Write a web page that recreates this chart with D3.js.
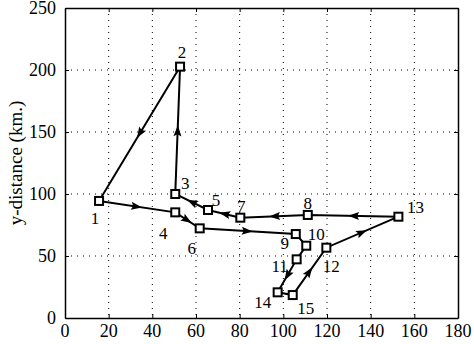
<!DOCTYPE html>
<html>
<head>
<meta charset="utf-8">
<script src="https://cdn.jsdelivr.net/npm/d3@7"></script>
<style>
  body { margin: 0; background: #fff; }
</style>
</head>
<body>
<div id="chart"></div>
<script>
// station numbers, in path order
const pathOrder = [1, 4, 6, 9, 10, 11, 14, 15, 12, 13, 8, 7, 5, 3, 2, 1];
const pointIds = [1, 2, 3, 4, 5, 6, 7, 8, 9, 10, 11, 12, 13, 14, 15];
const xValues = [15.6, 52.7, 50.5, 50.5, 65.5, 61.7, 80.3, 111.2, 105.7, 110.5, 106.1, 119.7, 152.7, 97.4, 104.3];
const yValues = [94.4, 202.7, 100, 85.2, 87.1, 72.3, 80.9, 83.1, 67.7, 58.3, 47.3, 56.7, 81.7, 20.7, 18.5];
const xTicks = [0, 20, 40, 60, 80, 100, 120, 140, 160, 180];
const yTicks = [0, 50, 100, 150, 200, 250];
const yLabel = 'y-distance (km.)';

// label placement relative to the marker (px)
const labelOffset = {
  1: [-4, 17], 2: [2, -15], 3: [10, -11], 4: [-12, 21], 5: [8, -10],
  6: [-8, 20], 7: [1, -12], 8: [0, -12], 9: [-11, 9], 10: [10, -12],
  11: [-17, 7], 12: [5, 18], 13: [17, -10], 14: [-15, 10], 15: [13, 13]
};

const FONT = 'Liberation Serif';
const W = 474, H = 344;
const margin = { top: 8, right: 16, bottom: 26, left: 65 };
const iw = W - margin.left - margin.right;
const ih = H - margin.top - margin.bottom;

const svg = d3.select('#chart').append('svg')
  .attr('width', W).attr('height', H)
  .attr('font-family', FONT);

const x = d3.scaleLinear().domain([0, 180]).range([margin.left, margin.left + iw]);
const y = d3.scaleLinear().domain([0, 250]).range([margin.top + ih, margin.top]);

// dotted grid
svg.append('g').selectAll('line')
  .data(xTicks.slice(1, -1)).join('line')
  .attr('x1', d => x(d)).attr('x2', d => x(d))
  .attr('y1', margin.top).attr('y2', margin.top + ih)
  .attr('stroke', '#000').attr('stroke-width', 1)
  .attr('stroke-dasharray', '1,5');
svg.append('g').selectAll('line')
  .data(yTicks.slice(1, -1)).join('line')
  .attr('x1', margin.left).attr('x2', margin.left + iw)
  .attr('y1', d => y(d)).attr('y2', d => y(d))
  .attr('stroke', '#000').attr('stroke-width', 1)
  .attr('stroke-dasharray', '1,5');

// axes with inward ticks (labels drawn separately below)
const fontSize = 18;
svg.append('g').attr('transform', `translate(0,${margin.top + ih})`)
  .call(d3.axisBottom(x).tickValues(xTicks).tickSizeInner(-4).tickSizeOuter(0).tickFormat(''));
svg.append('g').attr('transform', `translate(${margin.left},0)`)
  .call(d3.axisLeft(y).tickValues(yTicks).tickSizeInner(-4).tickSizeOuter(0).tickFormat(''));
svg.append('g').attr('transform', `translate(0,${margin.top})`)
  .call(d3.axisTop(x).tickValues(xTicks).tickSizeInner(-4).tickSizeOuter(0).tickFormat(''));
svg.append('g').attr('transform', `translate(${margin.left + iw},0)`)
  .call(d3.axisRight(y).tickValues(yTicks).tickSizeInner(-4).tickSizeOuter(0).tickFormat(''));

svg.selectAll('.domain').attr('stroke', '#000').attr('stroke-width', 1.5);
svg.selectAll('.tick line').attr('stroke', '#000');
svg.selectAll('.tick text').remove();

const fmt = d3.format('d');
svg.selectAll('text.xt')
  .data(xTicks).join('text')
  .attr('class', 'xt')
  .attr('x', d => x(d))
  .attr('y', margin.top + ih + 19)
  .attr('text-anchor', 'middle')
  .attr('font-family', FONT).style('font-family', FONT)
  .attr('font-size', fontSize)
  .text(fmt);
svg.selectAll('text.yt')
  .data(yTicks).join('text')
  .attr('class', 'yt')
  .attr('x', margin.left - 9)
  .attr('y', d => y(d) + 6)
  .attr('text-anchor', 'end')
  .attr('font-family', FONT).style('font-family', FONT)
  .attr('font-size', fontSize)
  .text(fmt);

svg.append('text')
  .attr('transform', `translate(15,${margin.top + ih / 2}) rotate(-90)`)
  .attr('text-anchor', 'middle')
  .attr('dominant-baseline', 'central')
  .attr('font-family', FONT).style('font-family', FONT)
  .attr('font-size', 19)
  .text(yLabel);

// trajectory
const pts = pointIds.map((id, i) => ({ id, x: xValues[i], y: yValues[i] }));
const byId = new Map(pts.map(p => [p.id, p]));
const path = pathOrder.map(id => byId.get(id));

svg.append('path')
  .datum(path)
  .attr('fill', 'none')
  .attr('stroke', '#000')
  .attr('stroke-width', 2)
  .attr('d', d3.line().x(d => x(d.x)).y(d => y(d.y)));

// arrowheads at segment midpoints
const arrows = [];
for (let i = 0; i < path.length - 1; i++) {
  const a = path[i], b = path[i + 1];
  const x0 = x(a.x), y0 = y(a.y), x1 = x(b.x), y1 = y(b.y);
  const len = Math.hypot(x1 - x0, y1 - y0);
  if (len < 20) continue;
  arrows.push({ mx: (x0 + x1) / 2, my: (y0 + y1) / 2, ang: Math.atan2(y1 - y0, x1 - x0) * 180 / Math.PI });
}
svg.append('g').selectAll('path')
  .data(arrows).join('path')
  .attr('d', 'M5,0 L-6,-4 L-4,0 L-6,4 Z')
  .attr('fill', '#000')
  .attr('transform', d => `translate(${d.mx},${d.my}) rotate(${d.ang})`);

// square markers
svg.append('g').selectAll('rect')
  .data(pts).join('rect')
  .attr('x', d => x(d.x) - 4).attr('y', d => y(d.y) - 4)
  .attr('width', 8).attr('height', 8)
  .attr('fill', '#fff')
  .attr('stroke', '#000').attr('stroke-width', 2);

// point labels
svg.selectAll('text.pl')
  .data(pts).join('text')
  .attr('class', 'pl')
  .attr('x', d => x(d.x) + labelOffset[d.id][0])
  .attr('y', d => y(d.y) + labelOffset[d.id][1] + 6)
  .attr('text-anchor', 'middle')
  .attr('font-family', FONT).style('font-family', FONT)
  .attr('font-size', 17)
  .text(d => d.id);
</script>
</body>
</html>
